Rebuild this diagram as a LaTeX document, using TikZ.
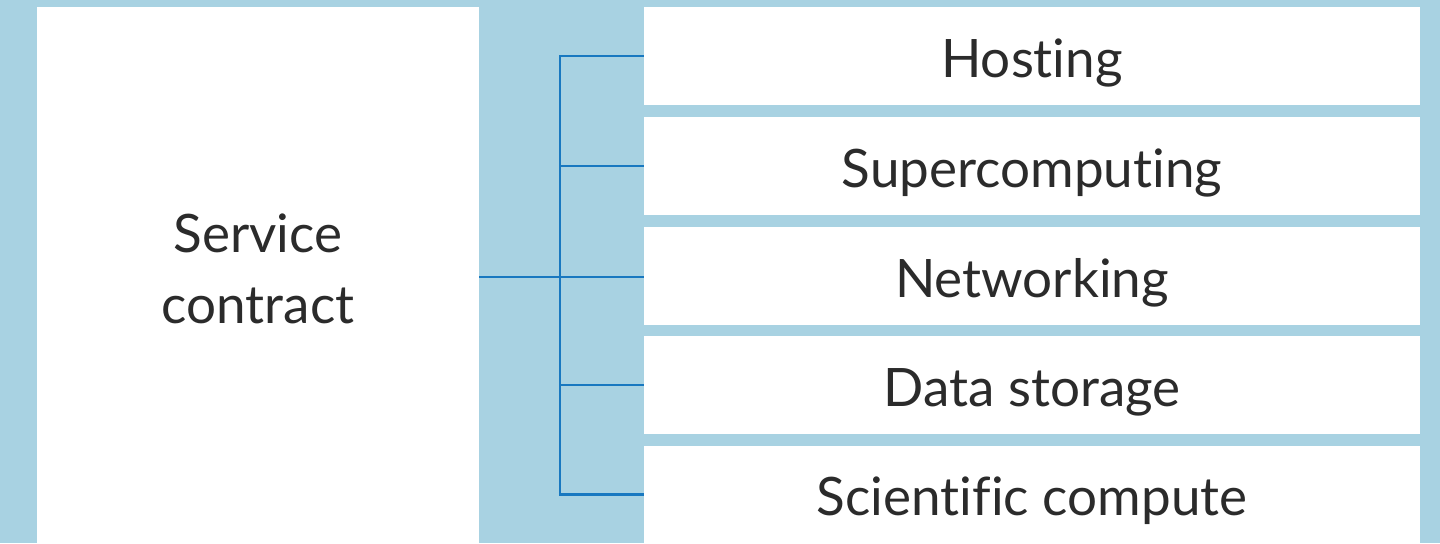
\documentclass[tikz,border=0pt]{standalone}
\usepackage{fontspec}
\setmainfont{Lato}[Ligatures=NoCommon]
\usepackage{tikz}
\usetikzlibrary{positioning}

\definecolor{bgblue}{HTML}{A8D2E2}
\definecolor{linkblue}{HTML}{1878C0}
\definecolor{txtgray}{HTML}{2B2B2B}

\tikzset{
    box/.style={fill=white, draw=none, inner sep=0pt, text=txtgray,
                font=\fontsize{26.5}{35.5}\selectfont, align=center},
    service/.style={box, minimum width=221pt, minimum height=268pt, text depth=6.75pt},
    item/.style={box, minimum width=388pt, minimum height=49pt, text height=21pt, text depth=0pt},
    link/.style={draw=linkblue, line width=1.1pt}
}

\begin{document}
\begin{tikzpicture}[x=0.5pt,y=-0.5pt]
        \fill[bgblue] (0,0) rectangle (1440,543);
        \useasboundingbox (0,0) rectangle (1440,543);

        \node[service] (service)    at (258,275)   {Service\\contract};
        \node[item]    (hosting)    at (1032,56)   {Hosting};
        \node[item]    (supercomp)  at (1032,166)  {Supercomputing};
        \node[item]    (networking) at (1032,276)  {Networking};
        \node[item]    (storage)    at (1032,385)  {Data storage};
        \node[item]    (scientific) at (1032,494.5) {Scientific compute};

        \coordinate (bus) at (560,277);

        \path[link] (hosting.west) -| (bus) |- (scientific.west);
        \path[link] (service.east |- bus) -- (networking.west |- bus);
        \path[link] (supercomp.west) -- (supercomp.west -| bus);
        \path[link] (storage.west) -- (storage.west -| bus);
    \end{tikzpicture}
\end{document}
